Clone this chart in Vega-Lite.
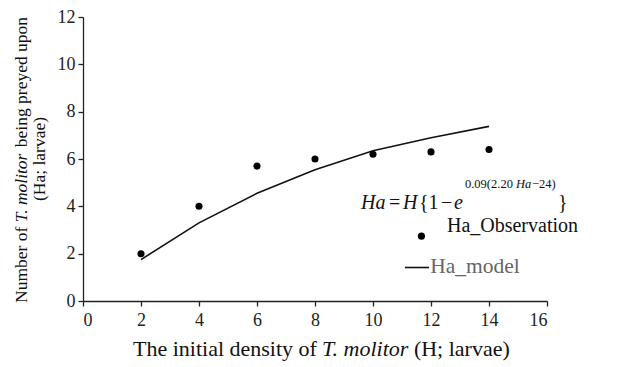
{
  "$schema": "https://vega.github.io/schema/vega-lite/v6.json",
  "width": 464,
  "height": 284,
  "autosize": {"type": "none"},
  "padding": {"left": 83, "top": 17, "right": 91, "bottom": 66},
  "background": "white",
  "config": {
    "view": {"stroke": null},
    "font": "Liberation Serif",
    "text": {"font": "Liberation Serif", "color": "#111", "baseline": "alphabetic"},
    "axis": {
      "grid": false,
      "domainColor": "#222",
      "domainWidth": 1.3,
      "tickColor": "#222",
      "tickWidth": 1.3,
      "tickSize": 5,
      "labelFont": "Liberation Serif",
      "labelFontSize": 18,
      "labelColor": "#222"
    }
  },
  "datasets": {
    "obs": [
      {"H": 2, "Ha": 2.0},
      {"H": 4, "Ha": 4.0},
      {"H": 6, "Ha": 5.7},
      {"H": 8, "Ha": 6.0},
      {"H": 10, "Ha": 6.2},
      {"H": 12, "Ha": 6.3},
      {"H": 14, "Ha": 6.4}
    ],
    "model": [
      {"H": 2, "Ha": 1.75},
      {"H": 4, "Ha": 3.3},
      {"H": 6, "Ha": 4.55},
      {"H": 8, "Ha": 5.55},
      {"H": 10, "Ha": 6.35},
      {"H": 12, "Ha": 6.9},
      {"H": 14, "Ha": 7.38}
    ]
  },
  "layer": [
    {
      "data": {"name": "model"},
      "mark": {"type": "line", "color": "#111", "strokeWidth": 1.6},
      "encoding": {
        "x": {
          "field": "H", "type": "quantitative",
          "scale": {"domain": [0, 16], "nice": false},
          "axis": {"values": [0, 2, 4, 6, 8, 10, 12, 14, 16], "labelFont": "Liberation Serif", "labelFontSize": 18, "labelPadding": 5, "title": null}
        },
        "y": {
          "field": "Ha", "type": "quantitative",
          "scale": {"domain": [0, 12], "nice": false},
          "axis": {"values": [0, 2, 4, 6, 8, 10, 12], "labelFont": "Liberation Serif", "labelFontSize": 18, "labelPadding": 3, "title": null}
        }
      }
    },
    {
      "data": {"name": "obs"},
      "mark": {"type": "point", "filled": true, "color": "black", "opacity": 1, "size": 50},
      "encoding": {
        "x": {"field": "H", "type": "quantitative"},
        "y": {"field": "Ha", "type": "quantitative"}
      }
    },
    {
      "data": {"values": [{}]},
      "mark": {"type": "text", "text": "The initial density of", "fontSize": 22, "align": "left"},
      "encoding": {"x": {"datum": 1.724}, "y": {"datum": -2.324}}
    },
    {
      "data": {"values": [{}]},
      "mark": {"type": "text", "text": "T. molitor", "fontStyle": "italic", "fontSize": 22, "align": "left"},
      "encoding": {"x": {"datum": 8.241}, "y": {"datum": -2.324}}
    },
    {
      "data": {"values": [{}]},
      "mark": {"type": "text", "text": "(H; larvae)", "fontSize": 22, "align": "left"},
      "encoding": {"x": {"datum": 11.41}, "y": {"datum": -2.324}}
    },
    {
      "data": {"values": [{}]},
      "mark": {"type": "text", "text": "Number of", "fontSize": 17.5, "align": "left", "angle": 270},
      "encoding": {"x": {"datum": -1.931}, "y": {"datum": -0.0845}}
    },
    {
      "data": {"values": [{}]},
      "mark": {"type": "text", "text": "T. molitor", "fontStyle": "italic", "fontSize": 17.5, "align": "left", "angle": 270},
      "encoding": {"x": {"datum": -1.931}, "y": {"datum": 3.325}}
    },
    {
      "data": {"values": [{}]},
      "mark": {"type": "text", "text": "being preyed upon", "fontSize": 17.5, "align": "left", "angle": 270},
      "encoding": {"x": {"datum": -1.931}, "y": {"datum": 6.5}}
    },
    {
      "data": {"values": [{}]},
      "mark": {"type": "text", "text": "(Ha; larvae)", "fontSize": 17.5, "align": "center", "angle": 270},
      "encoding": {"x": {"datum": -1.31}, "y": {"datum": 6.0}}
    },
    {
      "data": {"values": [{}]},
      "mark": {"type": "point", "filled": true, "color": "black", "opacity": 1, "size": 50},
      "encoding": {"x": {"datum": 11.67}, "y": {"datum": 2.74}}
    },
    {
      "data": {"values": [{}]},
      "mark": {"type": "text", "text": "Ha_Observation", "fontSize": 20, "align": "left"},
      "encoding": {"x": {"datum": 12.55}, "y": {"datum": 2.915}}
    },
    {
      "data": {"values": [{}]},
      "mark": {"type": "rule", "color": "#111", "strokeWidth": 1.6},
      "encoding": {"x": {"datum": 11.1}, "x2": {"datum": 11.93}, "y": {"datum": 1.415}}
    },
    {
      "data": {"values": [{}]},
      "mark": {"type": "text", "text": "Ha_model", "fontSize": 21.5, "align": "left", "color": "#666"},
      "encoding": {"x": {"datum": 11.97}, "y": {"datum": 1.183}}
    },
    {
      "data": {"values": [{}]},
      "mark": {"type": "text", "text": "Ha", "fontStyle": "italic", "fontSize": 20, "align": "left"},
      "encoding": {"x": {"datum": 9.586}, "y": {"datum": 3.887}}
    },
    {
      "data": {"values": [{}]},
      "mark": {"type": "text", "text": "=", "fontSize": 20, "align": "left"},
      "encoding": {"x": {"datum": 10.552}, "y": {"datum": 3.887}}
    },
    {
      "data": {"values": [{}]},
      "mark": {"type": "text", "text": "H", "fontStyle": "italic", "fontSize": 20, "align": "left"},
      "encoding": {"x": {"datum": 11.034}, "y": {"datum": 3.887}}
    },
    {
      "data": {"values": [{}]},
      "mark": {"type": "text", "text": "{1", "fontSize": 20, "align": "left"},
      "encoding": {"x": {"datum": 11.586}, "y": {"datum": 3.887}}
    },
    {
      "data": {"values": [{}]},
      "mark": {"type": "text", "text": "−", "fontSize": 20, "align": "left"},
      "encoding": {"x": {"datum": 12.345}, "y": {"datum": 3.887}}
    },
    {
      "data": {"values": [{}]},
      "mark": {"type": "text", "text": "e", "fontStyle": "italic", "fontSize": 20, "align": "left"},
      "encoding": {"x": {"datum": 12.793}, "y": {"datum": 3.887}}
    },
    {
      "data": {"values": [{}]},
      "mark": {"type": "text", "text": "0.09(2.20", "fontSize": 12.5, "align": "left"},
      "encoding": {"x": {"datum": 13.172}, "y": {"datum": 4.77}}
    },
    {
      "data": {"values": [{}]},
      "mark": {"type": "text", "text": "Ha", "fontStyle": "italic", "fontSize": 12.5, "align": "left"},
      "encoding": {"x": {"datum": 14.93}, "y": {"datum": 4.77}}
    },
    {
      "data": {"values": [{}]},
      "mark": {"type": "text", "text": "−24)", "fontSize": 12.5, "align": "left"},
      "encoding": {"x": {"datum": 15.48}, "y": {"datum": 4.77}}
    },
    {
      "data": {"values": [{}]},
      "mark": {"type": "text", "text": "}", "fontSize": 20, "align": "left"},
      "encoding": {"x": {"datum": 16.38}, "y": {"datum": 3.887}}
    }
  ]
}
